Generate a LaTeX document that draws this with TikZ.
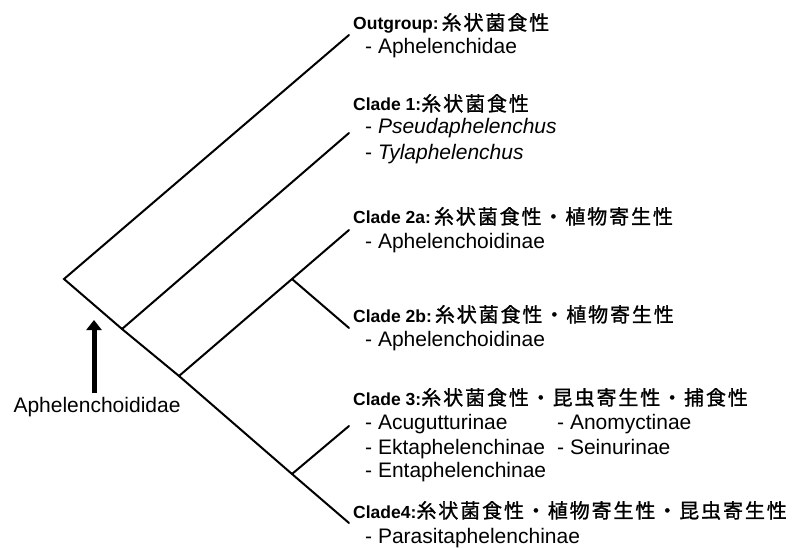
\documentclass[tikz,border=0pt]{standalone}
\usepackage{fontspec}
\setmainfont{Liberation Sans}
\newfontfamily\cjk{Noto Sans CJK JP}[LetterSpace=9.5, FakeBold=1.2]
\usetikzlibrary{arrows.meta}
\newcommand\jp[1]{{\cjk\mdseries\fontsize{20}{22}\selectfont #1}}
\tikzset{
  branch/.style={line width=2pt, line cap=round},
  head/.style={anchor=base west, inner sep=0pt, font=\fontsize{17.5}{20}\selectfont\bfseries},
  item/.style={anchor=base west, inner sep=0pt, font=\fontsize{21}{24}\selectfont},
  bigarrow/.style={line width=5pt, -{Triangle[width=15pt,length=10pt]}},
}
\begin{document}
\begin{tikzpicture}[x=1pt,y=-1pt]
\useasboundingbox (0,0) rectangle (795,548);
% tree points
\coordinate (root) at (64,279);
\coordinate (n1) at (122,329);
\coordinate (n2) at (179,376);
\coordinate (n3) at (292,474);
\coordinate (c2) at (292,279);
\coordinate (tOut) at (349,35);
\coordinate (t1) at (349,133);
\coordinate (t2a) at (349,230);
\coordinate (t2b) at (349,328);
\coordinate (t3) at (349,426);
\coordinate (t4) at (349,523);
% branches
\draw[branch] (tOut) -- (root) -- (n1) -- (n2) -- (n3) -- (t4);
\draw[branch] (n1) -- (t1);
\draw[branch] (n2) -- (c2) -- (t2a);
\draw[branch] (c2) -- (t2b);
\draw[branch] (n3) -- (t3);
% arrow
\node[anchor=base, inner sep=0pt, font=\fontsize{21}{24}\selectfont] (fam) at (97,412) {Aphelenchoididae};
\coordinate (abase) at (94,393);
\coordinate (atip) at (94,320);
\draw[bigarrow] (abase) -- (atip);
% labels
\node[head] (hOut) at (353,30) {Outgroup:\,\jp{糸状菌食性}};
\node[item] (iOut) at (365,54) {- Aphelenchidae};

\node[head] (h1) at (353,111) {Clade 1:\jp{糸状菌食性}};
\node[item] (i1a) at (365,134) {- \textit{Pseudaphelenchus}};
\node[item] (i1b) at (365,160) {- \textit{Tylaphelenchus}};

\node[head] (h2a) at (353,224) {Clade 2a:\,\jp{糸状菌食性・植物寄生性}};
\node[item] (i2a) at (365,248) {- Aphelenchoidinae};

\node[head] (h2b) at (353,322) {Clade 2b:\,\jp{糸状菌食性・植物寄生性}};
\node[item] (i2b) at (365,346) {- Aphelenchoidinae};

\node[head] (h3) at (353,405) {Clade 3:\jp{糸状菌食性・昆虫寄生性・捕食性}};
\node[item] (i3a) at (365,429) {- Acugutturinae};
\node[item] (i3b) at (365,454) {- Ektaphelenchinae};
\node[item] (i3c) at (365,477) {- Entaphelenchinae};
\node[item] (i3d) at (557,429) {- Anomyctinae};
\node[item] (i3e) at (557,454) {- Seinurinae};

\node[head] (h4) at (353,518) {Clade4:\jp{糸状菌食性・植物寄生性・昆虫寄生性}};
\node[item] (i4) at (365,543) {- Parasitaphelenchinae};
\end{tikzpicture}
\end{document}
